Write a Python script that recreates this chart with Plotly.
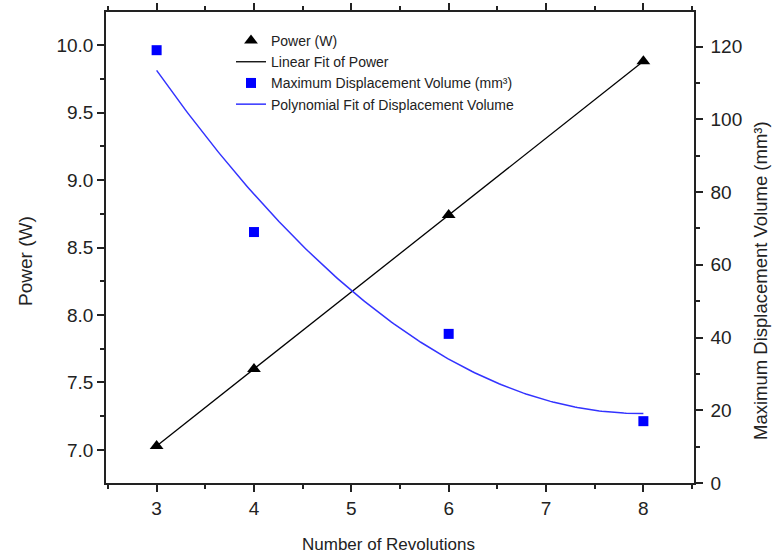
import numpy as np
import plotly.graph_objects as go

revolutions = [3, 4, 6, 8]
power_w = [7.03, 7.60, 8.74, 9.88]
displacement_mm3 = [119, 69, 41, 17]

x_ticks = [3, 4, 5, 6, 7, 8]
left_ticks = [7.0, 7.5, 8.0, 8.5, 9.0, 9.5, 10.0]
right_ticks = [0, 20, 40, 60, 80, 100, 120]

x_title = "Number of Revolutions"
left_title = "Power (W)"
right_title = "Maximum Displacement Volume (mm³)"

# fits computed from the data
lin = np.polyfit(revolutions, power_w, 1)
quad = np.polyfit(revolutions, displacement_mm3, 2)
xf = np.linspace(min(revolutions), max(revolutions), 200)

FONT = "Liberation Sans, Arial, sans-serif"
INK = "#222"

fig = go.Figure()
fig.add_trace(go.Scatter(x=revolutions, y=power_w, mode="markers", name="Power (W)",
                         marker=dict(symbol="triangle-up", size=12, color="black"), yaxis="y"))
fig.add_trace(go.Scatter(x=xf, y=np.polyval(lin, xf), mode="lines", name="Linear Fit of Power",
                         line=dict(color="black", width=1.3), yaxis="y"))
fig.add_trace(go.Scatter(x=revolutions, y=displacement_mm3, mode="markers",
                         name="Maximum Displacement Volume (mm³)",
                         marker=dict(symbol="square", size=10, color="#0000ff"), yaxis="y2"))
fig.add_trace(go.Scatter(x=xf, y=np.polyval(quad, xf), mode="lines",
                         name="Polynomial Fit of Displacement Volume",
                         line=dict(color="#3333ff", width=1.5), yaxis="y2"))

axis_common = dict(showline=True, linecolor=INK, linewidth=1.5, ticks="outside",
                   ticklen=7, tickwidth=1.5, tickcolor=INK, showgrid=False, zeroline=False,
                   automargin=False,
                   tickfont=dict(family=FONT, size=19, color=INK))

L, R, T, B = 106, 78, 12, 73
W, H = 772, 556
pw, ph = W - L - R, H - T - B

fig.update_layout(
    width=W, height=H,
    margin=dict(l=L, r=R, t=T, b=B, autoexpand=False),
    paper_bgcolor="white", plot_bgcolor="white",
    font=dict(family=FONT, color=INK),
    showlegend=True,
    legend=dict(x=(231 - L) / pw, y=0.9725, xanchor="left", yanchor="top", bgcolor="rgba(0,0,0,0)",
                font=dict(family=FONT, size=14, color=INK), tracegroupgap=0),
    xaxis=dict(range=[2.48, 8.52], tickvals=x_ticks, mirror="ticks",
               minor=dict(ticks="outside", dtick=0.5, ticklen=4, tickwidth=1.5, tickcolor=INK),
               **axis_common),
    yaxis=dict(range=[6.755, 10.245], tickvals=left_ticks, tickformat=".1f",
               minor=dict(ticks="outside", dtick=0.25, ticklen=4, tickwidth=1.5, tickcolor=INK),
               **axis_common),
    yaxis2=dict(range=[0, 129.5], tickvals=right_ticks, overlaying="y", side="right", anchor="x",
                ticklabelstandoff=4,
                minor=dict(ticks="outside", dtick=10, ticklen=4, tickwidth=1.5, tickcolor=INK),
                **axis_common),
    annotations=[
        dict(text=x_title, xref="paper", yref="paper", x=(388 - L) / pw, y=-(544 - (T + ph)) / ph,
             xanchor="center", yanchor="middle", showarrow=False,
             font=dict(family=FONT, size=17, color=INK)),
        dict(text=left_title, xref="paper", yref="paper", x=-(L - 25) / pw, y=1 - (261 - T) / ph,
             xanchor="center", yanchor="middle", showarrow=False, textangle=-90,
             font=dict(family=FONT, size=19, color=INK)),
        dict(text=right_title, xref="paper", yref="paper", x=1 + (760 - (L + pw)) / pw, y=1 - (281 - T) / ph,
             xanchor="center", yanchor="middle", showarrow=False, textangle=-90,
             font=dict(family=FONT, size=18.5, color=INK)),
    ],
)

fig.write_html("out.html")
